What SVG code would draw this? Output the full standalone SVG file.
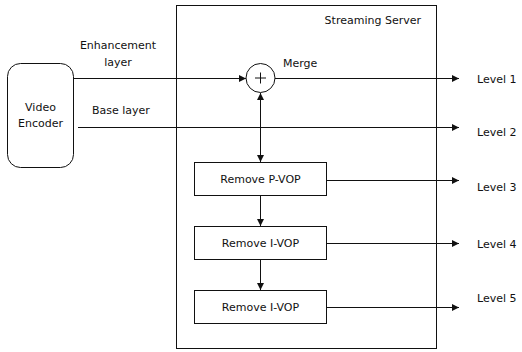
<svg xmlns="http://www.w3.org/2000/svg" width="522" height="352" viewBox="0 0 522 352">
<style>
text{font-family:"DejaVu Sans",Verdana,sans-serif;font-size:11px;fill:#111}
.box{fill:#fff;stroke:#111;stroke-width:1}
.ln{fill:none;stroke:#111;stroke-width:1}
.m{text-anchor:middle}
</style>
<defs>
<marker id="ah" viewBox="0 0 10 10" refX="10" refY="5" markerWidth="9" markerHeight="7" markerUnits="userSpaceOnUse" orient="auto-start-reverse"><path d="M0,0L10,5L0,10z" fill="#111"/></marker>
</defs>
<rect width="522" height="352" fill="#fff"/>
<g id="server"><rect class="box" x="176.5" y="5.5" width="260" height="343"/><text x="421" y="24" text-anchor="end">Streaming Server</text></g>
<g id="encoder"><rect class="box" x="7.5" y="63.5" width="66" height="104" rx="13"/><text class="m" x="40.5" y="111">Video</text><text class="m" x="40.5" y="127">Encoder</text></g>
<g id="merge"><circle class="box" cx="260.5" cy="78" r="14.5"/><path class="ln" d="M255,78h11M260.5,72.5v11"/><text x="283" y="67">Merge</text></g>
<g id="pvop"><rect class="box" x="194.5" y="162.5" width="132" height="33"/><text class="m" x="260.5" y="183">Remove P-VOP</text></g>
<g id="ivop1"><rect class="box" x="194.5" y="226.5" width="132" height="33"/><text class="m" x="260.5" y="247">Remove I-VOP</text></g>
<g id="ivop2"><rect class="box" x="194.5" y="290.5" width="132" height="33"/><text class="m" x="260.5" y="311">Remove I-VOP</text></g>
<g id="connectors">
<path class="ln" d="M73.5,78.5H246" marker-end="url(#ah)"/>
<path class="ln" d="M275,78.5H459" marker-end="url(#ah)"/>
<path class="ln" d="M78,127.5H459" marker-end="url(#ah)"/>
<path class="ln" d="M260.5,93V162" marker-start="url(#ah)" marker-end="url(#ah)"/>
<path class="ln" d="M260.5,196V226" marker-end="url(#ah)"/>
<path class="ln" d="M260.5,260V290" marker-end="url(#ah)"/>
<path class="ln" d="M326.5,180.5H459" marker-end="url(#ah)"/>
<path class="ln" d="M326.5,243.5H459" marker-end="url(#ah)"/>
<path class="ln" d="M326.5,307.5H459" marker-end="url(#ah)"/>
</g>
<g id="labels">
<text class="m" x="118" y="49">Enhancement</text>
<text class="m" x="118" y="66">layer</text>
<text x="92" y="114">Base layer</text>
<text x="477" y="83">Level 1</text>
<text x="477" y="136">Level 2</text>
<text x="477" y="191">Level 3</text>
<text x="477" y="248">Level 4</text>
<text x="477" y="302">Level 5</text>
</g>
</svg>
